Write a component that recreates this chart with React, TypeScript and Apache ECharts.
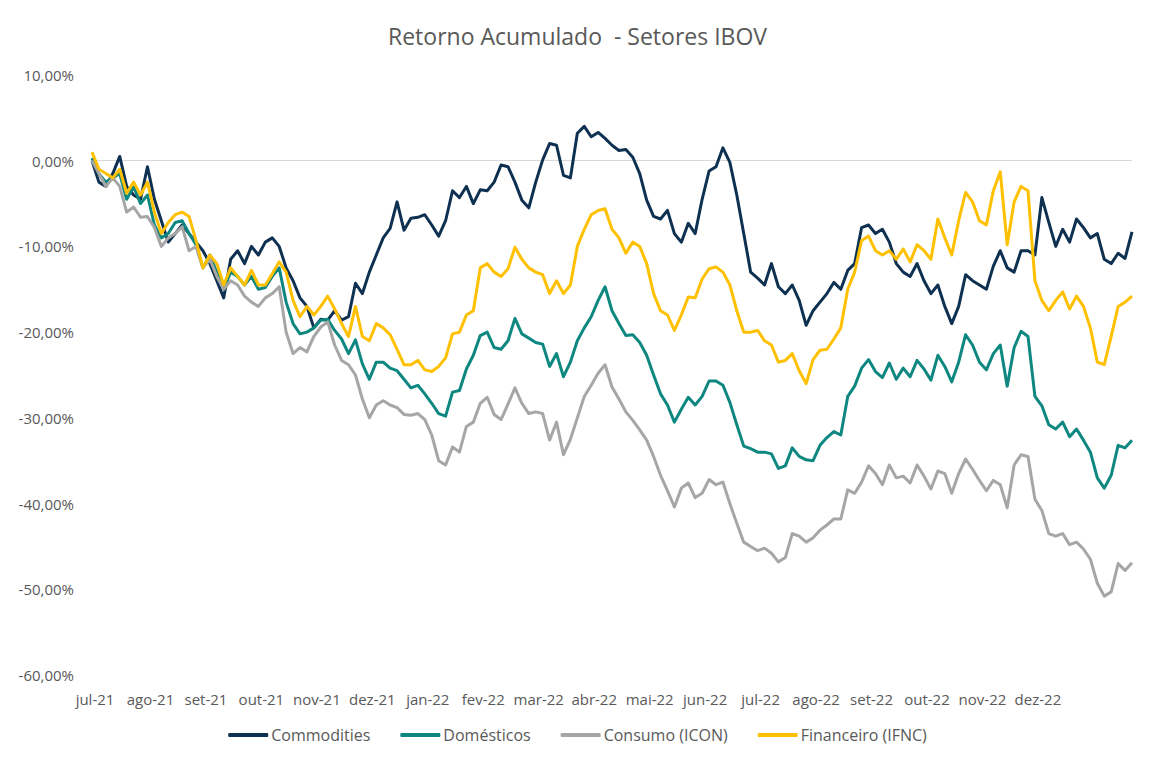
import React, { useEffect, useRef } from "react";
import * as echarts from "echarts";

const monthLabels = [
  "jul-21", "ago-21", "set-21", "out-21", "nov-21", "dez-21", "jan-22", "fev-22", "mar-22",
  "abr-22", "mai-22", "jun-22", "jul-22", "ago-22", "set-22", "out-22", "nov-22", "dez-22",
];
const pointsPerLabel = 8;

const yTicks = { min: -60, max: 10, interval: 10 };

const seriesNames = ["Commodities", "Domésticos", "Consumo (ICON)", "Financeiro (IFNC)"];
const seriesColors = ["#0f3151", "#0e8781", "#a6a6a6", "#ffc000"];

const commodities = [
  0, -2.5, -3, -1.5, 0.5, -3, -4, -4.5, -0.7, -4.5,
  -7, -9.5, -8.5, -7.5, -8.5, -9.5, -10.5, -12, -14, -16,
  -11.5, -10.5, -12, -10, -11, -9.5, -9, -10, -12.5, -14,
  -16, -17, -19.5, -18.5, -18.6, -17.5, -18.6, -18.2, -14.3, -15.5,
  -13, -11, -9, -7.9, -4.8, -8.1, -6.7, -6.6, -6.3, -7.5,
  -8.8, -7, -3.5, -4.3, -3, -5, -3.4, -3.5, -2.5, -0.5,
  -0.7, -2.5, -4.6, -5.5, -2.5, 0.1, 2, 1.8, -1.7, -2,
  3.2, 4, 2.8, 3.3, 2.6, 1.8, 1.2, 1.3, 0.4, -1.5,
  -4.6, -6.5, -6.8, -5.8, -8.5, -9.5, -7.3, -8.5, -4.5, -1.2,
  -0.7, 1.5, -0.2, -4, -8.5, -13, -13.7, -14.5, -12, -14.7,
  -15.5, -14.5, -16.3, -19.2, -17.5, -16.5, -15.5, -14.2, -15, -12.8,
  -12, -7.8, -7.5, -8.5, -8, -9.5, -12, -13, -13.5, -12,
  -14, -15.5, -14.5, -17, -19, -17, -13.3, -14, -14.5, -15,
  -12.3, -10.5, -12.5, -13, -10.5, -10.5, -11, -4.3, -7.2, -10,
  -8, -9.5, -6.8, -7.8, -9, -8.5, -11.5, -12, -10.8, -11.4,
  -8.3,
];

const domesticos = [
  0.3, -1.5, -2.5, -2, -1.5, -4.5, -3, -5, -4, -7.5,
  -9, -8.5, -7.2, -7, -8.5, -9.8, -12.5, -11, -13, -15,
  -13, -13.5, -14.5, -13.5, -15, -14.8, -13.5, -12.5, -16.5, -19,
  -20.2, -20, -19.5, -18.6, -18.5, -19.8, -20.8, -22.5, -20.9, -23.7,
  -25.5, -23.5, -23.5, -24.2, -24.5, -25.5, -26.5, -26.2, -27.2, -28.3,
  -29.5, -29.8, -27, -26.8, -24.3, -22.7, -20.4, -20, -21.8, -22,
  -21, -18.4, -20.2, -20.7, -21.2, -21.4, -24, -22.5, -25.2, -23.5,
  -21, -19.5, -18.2, -16.3, -14.7, -17.5, -19, -20.4, -20.3, -21.2,
  -22.7, -25, -27.2, -28.5, -30.5, -29, -27.6, -28.5, -27.5, -25.7,
  -25.7, -26.2, -28.2, -30.8, -33.3, -33.6, -34, -34, -34.2, -35.9,
  -35.6, -33.5, -34.5, -34.9, -35, -33.2, -32.3, -31.6, -32, -27.5,
  -26.3, -24.2, -23.2, -24.6, -25.3, -23.6, -25.5, -24.2, -25.2, -23.3,
  -24.3, -25.6, -22.7, -24, -25.8, -23.5, -20.3, -21.5, -23.5, -24.4,
  -22.5, -21.5, -26.3, -21.8, -19.9, -20.5, -27.5, -28.6, -30.8, -31.3,
  -30.5, -32.2, -31.3, -32.6, -34, -37, -38.2, -36.7, -33.2, -33.5,
  -32.6,
];

const consumo = [
  0, -1.5, -3, -2, -3, -6, -5.4, -6.6, -6.5, -7.8,
  -10, -9, -8.5, -7.7, -10.5, -10, -12.5, -11.5, -13.5, -15,
  -14, -14.5, -15.8, -16.5, -17, -16, -15.5, -14.7, -20, -22.5,
  -21.8, -22.3, -20.5, -19.4, -18.8, -21.5, -23.3, -23.8, -25, -27.8,
  -30, -28.5, -28, -28.5, -28.8, -29.6, -29.7, -29.5, -30.2, -32,
  -35, -35.5, -33.4, -34, -31, -30.5, -28.3, -27.6, -29.6, -30.2,
  -28.4, -26.5, -28.3, -29.5, -29.3, -29.5, -32.6, -30.5, -34.3, -32.5,
  -30, -27.5, -26.2, -24.8, -23.8, -26.4, -27.8, -29.3, -30.3, -31.4,
  -32.6, -34.5, -36.7, -38.5, -40.4, -38.2, -37.6, -39.3, -38.8, -37.2,
  -37.8, -37.5, -40, -42.3, -44.5, -45, -45.5, -45.2, -45.8, -46.8,
  -46.3, -43.5, -43.8, -44.5, -44, -43.1, -42.5, -41.8, -41.8, -38.4,
  -38.8, -37.5, -35.6, -36.5, -37.8, -35.5, -37, -36.8, -37.6, -35.5,
  -36.8, -38.3, -36.2, -36.5, -38.8, -36.5, -34.8, -36, -37.3, -38.5,
  -37.3, -37.8, -40.5, -35.5, -34.3, -34.5, -39.5, -40.8, -43.5, -43.8,
  -43.5, -44.8, -44.5, -45.3, -46.5, -49.3, -50.8, -50.3, -47, -47.8,
  -46.9,
];

const financeiro = [
  1, -1, -1.5, -2, -1, -3.8, -2.5, -4, -2.5, -6,
  -8.5, -7.2, -6.3, -6, -6.5, -9.3, -12.5, -11, -12, -14.5,
  -12.5, -13.5, -14.5, -12.8, -14.5, -14.5, -13.2, -11.8, -13, -16.3,
  -18.2, -17, -18, -17, -15.8, -17.3, -19, -20.5, -17, -20.5,
  -21, -19, -19.5, -20.3, -22, -23.8, -23.8, -23.3, -24.4, -24.6,
  -24, -23, -20.2, -20, -18, -17.5, -12.5, -12, -13, -13.5,
  -12.6, -10.1, -11.5, -12.5, -13, -13.3, -15.5, -14, -15.5, -14.5,
  -10, -8, -6.3, -5.8, -5.6, -8, -9, -10.8, -9.5, -10,
  -12, -15.5, -17.5, -18, -19.8, -18, -15.9, -16, -13.8, -12.6,
  -12.4, -13, -14.5, -17.5, -20, -20, -19.8, -21, -21.5, -23.5,
  -23.3, -22.5, -24.5, -26, -23.2, -22.1, -22, -20.8, -19.5, -15,
  -13, -9.3, -8.8, -10.5, -11, -10.5, -11.5, -10.3, -11.8, -9.8,
  -10.5, -11.5, -6.8, -9, -11, -7, -3.7, -4.8, -7, -7.5,
  -3.5, -1.3, -9.8, -4.8, -3, -3.5, -14, -16.3, -17.5, -16.3,
  -15.3, -17.3, -15.8, -17, -19.5, -23.5, -23.8, -20.5, -17, -16.5,
  -15.8,
];

const FONT = "'Open Sans', 'Noto Sans', sans-serif";
const TEXT_COLOR = "#595959";

export default function App() {
  const ref = useRef<HTMLDivElement>(null);

  useEffect(() => {
    document.body.style.margin = "0";
    if (!ref.current) return;
    const chart = echarts.init(ref.current, undefined, { renderer: "svg" });
    const categories = commodities.map((_, i) => String(i));
    const values = [commodities, domesticos, consumo, financeiro];
    const nLines = (yTicks.max - yTicks.min) / yTicks.interval + 1;
    const splitColors = Array.from({ length: nLines }, (_, k) =>
      yTicks.min + k * yTicks.interval === 0 ? "#d9d9d9" : "rgba(0,0,0,0)"
    );

    chart.setOption({
      animation: false,
      backgroundColor: "#ffffff",
      textStyle: { fontFamily: FONT },
      title: {
        text: "Retorno Acumulado  - Setores IBOV",
        left: "center",
        top: 19,
        textStyle: { fontFamily: FONT, fontSize: 23, fontWeight: "normal", color: TEXT_COLOR },
      },
      legend: {
        bottom: 20,
        left: "center",
        icon: "roundRect",
        itemWidth: 40,
        itemHeight: 4,
        itemGap: 30,
        textStyle: { fontFamily: FONT, fontSize: 16, color: TEXT_COLOR, padding: [0, 0, 0, -2] },
        data: seriesNames,
      },
      grid: { left: 92, right: 23, top: 75, bottom: 93, containLabel: false },
      xAxis: {
        type: "category",
        data: categories,
        boundaryGap: false,
        axisLine: { show: false },
        axisTick: { show: false },
        splitLine: { show: false },
        axisLabel: {
          interval: pointsPerLabel - 1,
          margin: 16,
          padding: [0, 0, 0, 6],
          fontFamily: FONT,
          fontSize: 15,
          color: TEXT_COLOR,
          formatter: (_v: string, idx: number) => monthLabels[idx / pointsPerLabel] ?? "",
        },
      },
      yAxis: {
        type: "value",
        min: yTicks.min,
        max: yTicks.max,
        interval: yTicks.interval,
        axisLine: { show: false },
        axisTick: { show: false },
        splitLine: { show: true, lineStyle: { color: splitColors, width: 1 } },
        axisLabel: {
          margin: 18,
          fontFamily: FONT,
          fontSize: 15,
          color: TEXT_COLOR,
          formatter: (v: number) => v.toFixed(2).replace(".", ",") + "%",
        },
      },
      series: seriesNames.map((name, k) => ({
        name,
        type: "line",
        data: values[k],
        symbol: "none",
        showSymbol: false,
        smooth: false,
        color: seriesColors[k],
        lineStyle: { color: seriesColors[k], width: 3, join: "round" },
      })),
    });

    return () => chart.dispose();
  }, []);

  return <div ref={ref} style={{ width: 1155, height: 768 }} />;
}
